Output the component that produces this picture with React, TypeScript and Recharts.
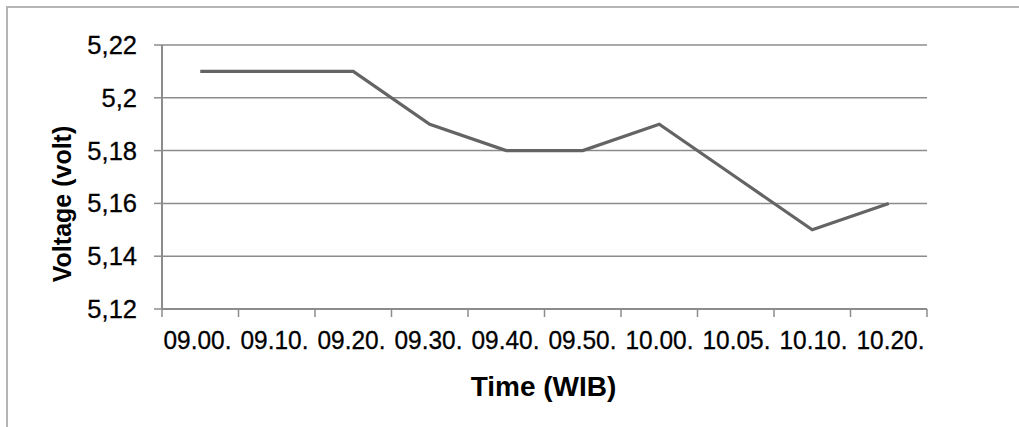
import React from 'react';
import { LineChart, Line, XAxis, YAxis, CartesianGrid, Label } from 'recharts';

const categories = ['09.00.', '09.10.', '09.20.', '09.30.', '09.40.', '09.50.', '10.00.', '10.05.', '10.10.', '10.20.'];
const voltage = [5.21, 5.21, 5.21, 5.19, 5.18, 5.18, 5.19, 5.17, 5.15, 5.16];
const yTicks = [5.12, 5.14, 5.16, 5.18, 5.2, 5.22];

const data = categories.map((time, i) => ({ time, v: voltage[i] }));

const FONT = '"Liberation Sans", Arial, sans-serif';
const AXIS = '#8c8c8c';

function XTick(props: any) {
  const { x, y, payload, index, visibleTicksCount, width } = props;
  const band = width / visibleTicksCount;
  const axisY = y - 8;
  const left = x - band / 2;
  const right = x + band / 2;
  return (
    <g>
      <line x1={left} x2={left} y1={axisY} y2={axisY + 8} stroke={AXIS} strokeWidth={1.5} />
      {index === visibleTicksCount - 1 && (
        <line x1={right} x2={right} y1={axisY} y2={axisY + 8} stroke={AXIS} strokeWidth={1.5} />
      )}
      <text
        x={left + 1.5 + index * 0.5}
        y={axisY + 31}
        textAnchor="start"
        dominantBaseline="central"
        fontSize={26.5}
        textLength={68}
        lengthAdjust="spacingAndGlyphs"
        fontFamily={FONT}
        fill="#000"
        stroke="#000"
        strokeWidth={0.3}
      >
        {payload.value}
      </text>
    </g>
  );
}

function YTitle(props: any) {
  const { viewBox } = props;
  const cx = viewBox.x + 62;
  const cy = 204;
  return (
    <text x={cx} y={cy} transform={`rotate(-90 ${cx} ${cy})`} textAnchor="middle" dominantBaseline="central" fontSize={25} fontWeight="bold" fontFamily={FONT} fill="#000">
      Voltage (volt)
    </text>
  );
}

function XTitle(props: any) {
  const { viewBox } = props;
  const cx = viewBox.x + viewBox.width / 2 - 1;
  const cy = viewBox.y + 77.5;
  return (
    <text x={cx} y={cy} textAnchor="middle" dominantBaseline="central" fontSize={28} fontWeight="bold" fontFamily={FONT} fill="#000">
      Time (WIB)
    </text>
  );
}

export default function App() {
  return (
    <div style={{ position: 'absolute', left: 0, top: 0, width: 1019, height: 427, background: '#fff' }}>
      <div style={{ position: 'absolute', left: 6, top: 6, right: -4, bottom: -4, borderTop: '2px solid #b4b4b4', borderLeft: '2px solid #b4b4b4' }} />
      <LineChart width={1019} height={427} data={data} margin={{ top: 45, right: 92, bottom: 0, left: 0 }} style={{ position: 'absolute', left: 0, top: 0 }}>
        <CartesianGrid vertical={false} stroke={AXIS} strokeWidth={1.5} />
        <XAxis
          dataKey="time"
          scale="band"
          height={118}
          tickLine={false}
          tickSize={8}
          tickMargin={0}
          interval={0}
          axisLine={{ stroke: AXIS, strokeWidth: 2 }}
          tick={<XTick />}
        >
          <Label content={<XTitle />} />
        </XAxis>
        <YAxis
          width={162}
          domain={[5.12, 5.22]}
          ticks={yTicks}
          interval={0}
          tickSize={8}
          tickMargin={17}
          tickLine={{ stroke: AXIS, strokeWidth: 1.5 }}
          axisLine={{ stroke: AXIS, strokeWidth: 2 }}
          tickFormatter={(v: number) => String(v).replace('.', ',')}
          tick={{ fontSize: 25.5, fontFamily: FONT, fill: '#000', stroke: '#000', strokeWidth: 0.3 }}
        >
          <Label content={<YTitle />} />
        </YAxis>
        <Line type="linear" dataKey="v" stroke="#646464" strokeWidth={3.2} dot={false} isAnimationActive={false} />
      </LineChart>
    </div>
  );
}
